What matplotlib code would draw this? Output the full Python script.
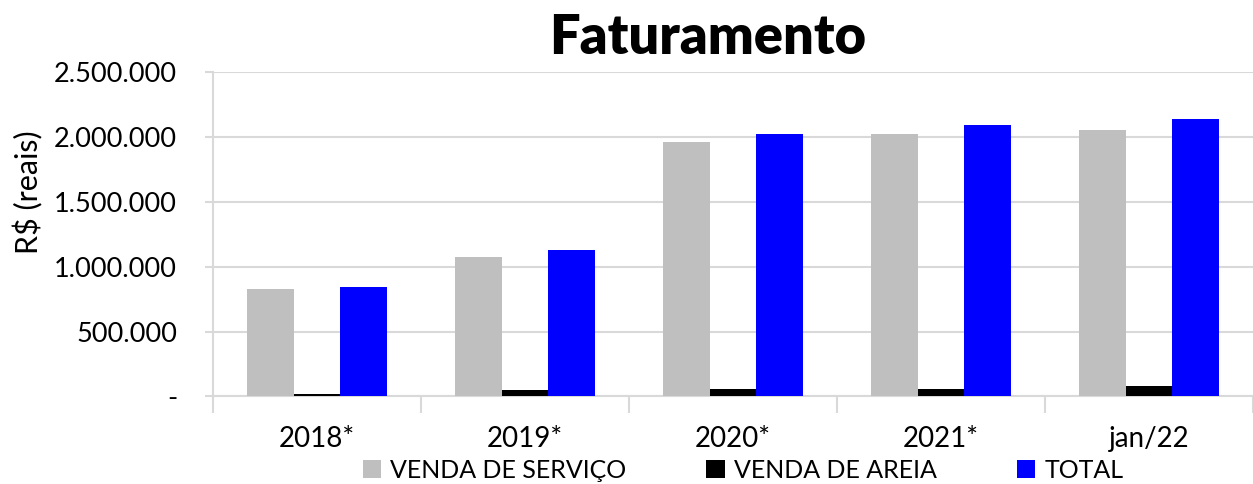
import numpy as np
import matplotlib.pyplot as plt
from matplotlib.ticker import FuncFormatter, FixedLocator

# data
categorias = ['2018*', '2019*', '2020*', '2021*', 'jan/22']
venda_servico = [826000, 1072000, 1958000, 2025000, 2055000]
venda_areia = [15000, 49000, 59000, 57000, 77000]
total = [841000, 1126000, 2022000, 2090000, 2138000]

plt.rcParams['font.family'] = ['Lato', 'DejaVu Sans']

fig = plt.figure(figsize=(12.53, 4.84), dpi=100)
ax = fig.add_axes([0.170, 0.181, 0.830, 0.670])

x = np.arange(len(categorias))
w = 0.225
ax.bar(x - w, venda_servico, w, color='#BFBFBF', label='VENDA DE SERVIÇO', zorder=3)
ax.bar(x, venda_areia, w, color='#000000', label='VENDA DE AREIA', zorder=3)
ax.bar(x + w, total, w, color='#0000FF', label='TOTAL', zorder=3)

ax.set_xlim(-0.5, len(categorias) - 0.5)
ax.set_ylim(0, 2500000)
ax.set_yticks(np.arange(0, 2500001, 500000))

def fmt(v, pos):
    if v == 0:
        return '-'
    return f'{int(v):,}'.replace(',', '.')

ax.yaxis.set_major_formatter(FuncFormatter(fmt))
ax.set_xticks(x)
ax.set_xticklabels(categorias)
ax.xaxis.set_minor_locator(FixedLocator(np.arange(-0.5, len(categorias), 1)))

ax.grid(axis='y', color='#D9D9D9', linewidth=1.5, zorder=0)
for s in ['top', 'right']:
    ax.spines[s].set_visible(False)
for s in ['left', 'bottom']:
    ax.spines[s].set_color('#D9D9D9')
    ax.spines[s].set_linewidth(1.5)

ax.tick_params(axis='x', which='major', length=0, labelsize=20, pad=21)
ax.tick_params(axis='x', which='minor', length=12, width=1.5, color='#D9D9D9')
ax.tick_params(axis='y', length=6, width=1.5, color='#D9D9D9', labelsize=19.5, pad=20)

fig.text(28 / 1253, 1 - 192 / 484, 'R$ (reais)', fontsize=22, rotation=90,
         ha='center', va='center')

fig.text(0.565, 0.922, 'Faturamento', fontsize=39, fontweight='heavy',
         ha='center', va='center')

fig.legend(loc='center', bbox_to_anchor=(0.593, 0.028), ncol=3, frameon=False,
           fontsize=18, handlelength=0.75, handleheight=0.75, handletextpad=0.35,
           columnspacing=3.2)

fig.savefig('out.png', dpi=100)
